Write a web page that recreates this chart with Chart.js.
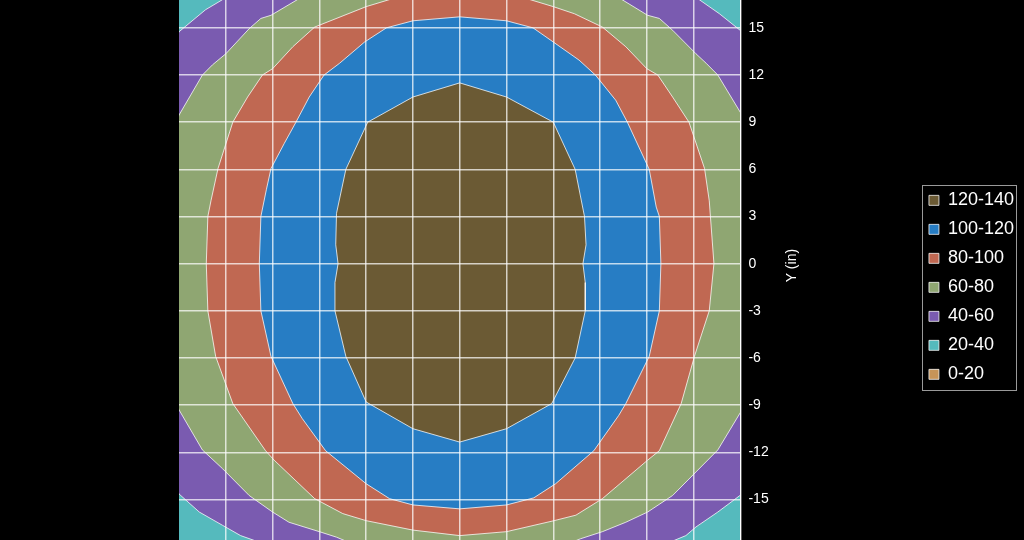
<!DOCTYPE html>
<html lang="en">
<head>
<meta charset="UTF-8">
<title>Contour</title>
<script src="https://cdn.jsdelivr.net/npm/chart.js@4.4.1/dist/chart.umd.min.js"></script>
<style>
  html, body { margin: 0; padding: 0; background: #000; overflow: hidden; }
  #wrap { position: absolute; left: 0; top: -40px; width: 1024px; height: 634px; }
</style>
</head>
<body>
<div id="wrap"><canvas id="contour" width="1024" height="634"></canvas></div>
<script>
// contour bands, listed top layer first (same order as the legend)
const bandLabels = ['120-140', '100-120', '80-100', '60-80', '40-60', '20-40', '0-20'];
const bandColors = ['#6b5a34', '#277dc4', '#c06852', '#8fa672', '#7a5bb0', '#55babd', '#c79458'];

const xTicks = [-18, -15, -12, -9, -6, -3, 0, 3, 6, 9, 12, 15, 18];
const yTicks = [-18, -15, -12, -9, -6, -3, 0, 3, 6, 9, 12, 15, 18];

// boundary of each band (outer edge of the region >= lower limit), x/y in inches
const edge120 = [[0,11.5],[3.0,10.6],[6.0,9.0],[7.4,6.0],[8.0,3.0],[8.1,1.2],[7.9,0],[8.05,-1.2],[8.05,-3.0],
  [7.4,-6.0],[5.9,-8.9],[3.0,-10.5],[0,-11.35],[-3.0,-10.5],[-6.0,-8.8],[-7.3,-5.9],[-8.0,-3.0],[-8.0,-1.2],
  [-7.8,0],[-7.95,1.2],[-7.9,3.2],[-7.3,6.0],[-5.9,9.0],[-3.0,10.6],[0,11.5]];
const edge100 = [[0,15.7],[3.0,15.45],[4.7,15.0],[6.0,14.1],[7.65,12.95],[8.7,12.0],[10.0,10.4],[10.75,9.0],
  [12.15,6.0],[12.6,3.6],[12.8,3.0],[12.9,0],[12.8,-3.0],[12.15,-5.9],[10.65,-8.9],[10.2,-9.65],[8.6,-11.9],
  [6.15,-14.0],[4.75,-14.9],[3.0,-15.35],[0,-15.6],[-3.0,-15.35],[-4.5,-14.95],[-6.0,-14.0],[-8.6,-11.9],
  [-10.1,-9.85],[-10.7,-8.9],[-12.1,-5.9],[-12.75,-3.0],[-12.85,0],[-12.75,3.0],[-12.4,4.7],[-12.1,6.05],
  [-11.25,7.65],[-10.5,9.0],[-9.65,10.6],[-8.7,12.0],[-7.7,12.75],[-6.1,14.1],[-4.7,15.0],[-3.0,15.45],[0,15.7]];
const edge80 = [[0,17.3],[4.5,16.8],[6.0,16.35],[7.35,15.9],[9.15,15.05],[10.65,13.8],[12.0,12.4],[12.7,12.0],
  [13.65,10.6],[14.7,9.0],[15.7,6.05],[16.0,4.0],[16.3,0],[16.0,-3.0],[15.05,-5.9],[14.2,-8.9],[12.8,-11.9],
  [12.05,-12.5],[9.15,-14.95],[7.45,-16.0],[6.05,-16.35],[3.0,-17.05],[0,-17.3],[-3.0,-16.95],[-6.0,-16.35],
  [-7.5,-15.9],[-9.3,-14.95],[-11.9,-12.5],[-12.45,-11.9],[-14.55,-8.9],[-15.65,-5.9],[-16.15,-3.0],[-16.25,0],
  [-16.15,3.0],[-15.95,4.0],[-15.5,6.05],[-14.55,9.0],[-13.6,10.6],[-12.65,12.0],[-12.0,12.4],[-10.7,13.8],
  [-9.3,15.05],[-6.0,16.35],[-4.5,16.8],[0,17.3]];
const edge60 = [[0,19.5],[6,18.8],[9,17.6],[10.4,16.8],[12.05,15.8],[12.8,15.6],[13.65,14.85],[15.15,13.35],
  [15.8,12.75],[16.55,12.0],[18.1,9.45],[19,6],[19.3,0],[19,-6],[18.1,-9.3],[16.55,-11.85],[15.15,-13.25],
  [13.65,-14.75],[12.05,-15.8],[10.65,-16.45],[9.15,-17.05],[7.75,-17.5],[6,-18.2],[0,-19],[-6,-18.2],
  [-7.3,-17.65],[-7.9,-17.4],[-9.0,-17.05],[-10.95,-16.45],[-12.0,-15.8],[-13.5,-14.75],[-15.0,-13.25],
  [-15.2,-13.05],[-16.5,-11.85],[-18.0,-9.3],[-19,-6],[-19.3,0],[-19,6],[-18.0,9.45],[-16.5,12.0],
  [-15.85,12.65],[-15.0,13.35],[-13.5,14.95],[-12.75,15.6],[-12.1,15.8],[-10.4,16.8],[-9,17.6],[-6,18.8],[0,19.5]];
const edge40 = [[0,21],[13,19],[15.35,16.8],[16.65,15.9],[18.1,14.75],[20,10],[20.5,0],[20,-10],[18.1,-14.65],
  [16.55,-15.8],[15.15,-16.75],[14.5,-17.3],[13.65,-17.65],[12,-18.6],[0,-21],[-12,-18.6],[-13.05,-17.65],
  [-14.05,-17.3],[-15.2,-16.65],[-16.7,-15.8],[-18,-14.65],[-20,-10],[-20.5,0],[-20,10],[-18,14.75],
  [-16.3,16.15],[-15.2,16.8],[-13,19],[0,21]];
const edge20 = [[-20,20],[20,20],[20,-20],[-20,-20],[-20,20]];
const edge0 = [];

const edges = [edge120, edge100, edge80, edge60, edge40, edge20, edge0];

const font = 'Liberation Sans, Arial, sans-serif';
const gridColor = 'rgba(255,255,255,0.72)';

const datasets = bandLabels.map(function(lbl, i) {
    return {
        label: lbl,
        data: edges[i],
        showLine: true,
        fill: 'shape',
        tension: 0,
        pointRadius: 0,
        backgroundColor: bandColors[i],
        borderColor: 'rgba(255,255,255,0.75)',
        borderWidth: 1
    };
});

// axis title on the right, reading bottom to top
const yTitle = {
    id: 'yTitle',
    afterDraw(chart) {
        const ctx = chart.ctx, a = chart.chartArea;
        ctx.save();
        ctx.translate(a.right + 52, (a.top + a.bottom) / 2 + 2);
        ctx.rotate(-Math.PI / 2);
        ctx.fillStyle = '#fff';
        ctx.font = '14px ' + font;
        ctx.textAlign = 'center';
        ctx.textBaseline = 'middle';
        ctx.fillText('Y (in)', 0, 0);
        ctx.restore();
    }
};

// frame round the legend
const legendFrame = {
    id: 'legendFrame',
    afterDraw(chart) {
        const boxes = chart.legend.legendHitBoxes;
        if (!boxes || !boxes.length) return;
        const first = boxes[0], last = boxes[boxes.length - 1];
        const ctx = chart.ctx;
        ctx.save();
        ctx.strokeStyle = '#9a9a9a';
        ctx.lineWidth = 1;
        const x0 = Math.round(first.left - 7) + 0.5;
        const y0 = Math.round(first.top - 6) + 0.5;
        const x1 = Math.round(first.left + 87) + 0.5;
        const y1 = Math.round(last.top + 25) + 0.5;
        ctx.strokeRect(x0, y0, x1 - x0, y1 - y0);
        ctx.restore();
    }
};

new Chart(document.getElementById('contour'), {
    type: 'scatter',
    data: { datasets: datasets },
    options: {
        responsive: false,
        animation: false,
        events: [],
        layout: { padding: { left: 179, top: 20.7, right: 0, bottom: 0 } },
        plugins: {
            tooltip: { enabled: false },
            legend: {
                position: 'right',
                align: 'center',
                labels: {
                    color: '#fff',
                    font: { size: 18, family: font },
                    boxWidth: 10,
                    boxHeight: 10,
                    padding: 11
                }
            }
        },
        scales: {
            x: {
                type: 'linear',
                min: -18,
                max: 18,
                afterBuildTicks: function(s) { s.ticks = xTicks.map(v => ({ value: v })); },
                afterFit: function(s) { s.height = 47.4; },
                ticks: { display: false },
                grid: {
                    // no line on the left edge
                    color: c => (c.tick && c.tick.value === -18) ? 'rgba(0,0,0,0)' : gridColor,
                    lineWidth: 1.5, drawTicks: false, z: 1
                },
                border: { display: false }
            },
            y: {
                type: 'linear',
                position: 'right',
                min: -18,
                max: 18,
                afterBuildTicks: function(s) { s.ticks = yTicks.map(v => ({ value: v })); },
                afterFit: function(s) { s.width = 177.5; },
                ticks: { color: '#fff', font: { size: 14, family: font }, padding: 8 },
                grid: { color: gridColor, lineWidth: 1.5, drawTicks: false, z: 1 },
                border: { display: true, color: '#fff', width: 1, z: 2 }
            }
        }
    },
    plugins: [yTitle, legendFrame]
});
</script>
</body>
</html>
